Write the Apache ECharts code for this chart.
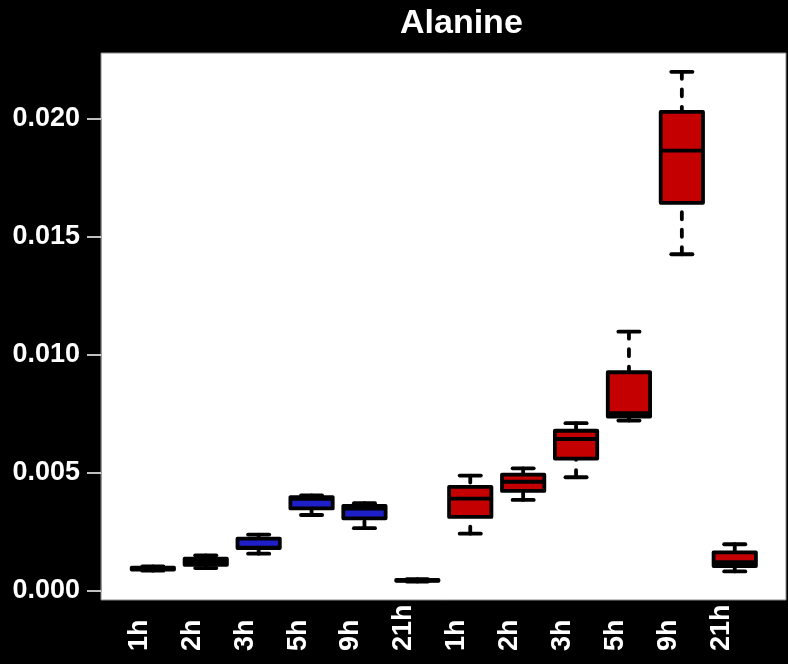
<!DOCTYPE html>
<html>
<head>
<meta charset="utf-8">
<script src="https://cdn.jsdelivr.net/npm/echarts@6/dist/echarts.min.js"></script>
<style>
html,body{margin:0;padding:0;background:#000;}
#c{width:788px;height:664px;}
</style>
</head>
<body>
<div id="c"></div>
<script>
// ---- data ----
const categories = ['1h','2h','3h','5h','9h','21h','1h','2h','3h','5h','9h','21h'];
const groupOf    = [0,0,0,0,0,0,1,1,1,1,1,1];
const whiskerLow  = [0.00086,0.00097,0.00158,0.00322,0.00266,0.00040, 0.00243,0.00386,0.00482,0.00722,0.01427,0.00083];
const quartile1   = [0.00091,0.00111,0.00182,0.00350,0.00308,0.00043, 0.00314,0.00424,0.00561,0.00739,0.01645,0.00106];
const median      = [0.00095,0.00124,0.00184,0.00390,0.00349,0.00045, 0.00391,0.00463,0.00644,0.00754,0.01866,0.00122];
const quartile3   = [0.00099,0.00137,0.00222,0.00398,0.00361,0.00047, 0.00441,0.00493,0.00679,0.00927,0.02030,0.00164];
const whiskerHigh = [0.00104,0.00151,0.00239,0.00405,0.00372,0.00050, 0.00489,0.00520,0.00711,0.01099,0.02200,0.00198];
const yMin = 0, yMax = 0.020, yStep = 0.005;
const titleText = 'Alanine';

// ---- styles ----
const groupColors = ['#1f1fc9', '#c40000'];
const FONT = '"Liberation Sans", Arial, sans-serif';

const seriesData = categories.map((c, i) => [i, whiskerLow[i], quartile1[i], median[i], quartile3[i], whiskerHigh[i], groupOf[i]]);

function renderItem(params, api) {
  const i = api.value(0);
  const bw = api.size([1, 0])[0];
  const half = bw * 0.4;
  const capHalf = bw * 0.2;
  const pMin = api.coord([i, api.value(1)]);
  const pQ1 = api.coord([i, api.value(2)]);
  const pMed = api.coord([i, api.value(3)]);
  const pQ3 = api.coord([i, api.value(4)]);
  const pMax = api.coord([i, api.value(5)]);
  const x = pMed[0];
  const lw = 3.8;
  const fill = groupColors[api.value(6)];
  const dashStyle = {stroke: '#000', lineWidth: lw, lineDash: [7, 10.5], lineCap: 'round'};
  const solid = {stroke: '#000', lineWidth: lw, lineCap: 'round'};
  return {
    type: 'group',
    children: [
      {type: 'line', shape: {x1: x, y1: pMax[1], x2: x, y2: pQ3[1]}, style: dashStyle},
      {type: 'line', shape: {x1: x, y1: pMin[1], x2: x, y2: pQ1[1]}, style: dashStyle},
      {type: 'line', shape: {x1: x - capHalf, y1: pMax[1], x2: x + capHalf, y2: pMax[1]}, style: solid},
      {type: 'line', shape: {x1: x - capHalf, y1: pMin[1], x2: x + capHalf, y2: pMin[1]}, style: solid},
      {type: 'rect', shape: {x: x - half, y: pQ3[1], width: 2 * half, height: pQ1[1] - pQ3[1]},
        style: {fill: fill, stroke: '#000', lineWidth: lw, lineJoin: 'round'}},
      {type: 'line', shape: {x1: x - half, y1: pMed[1], x2: x + half, y2: pMed[1]}, style: {stroke: '#000', lineWidth: lw, lineCap: 'butt'}}
    ]
  };
}

const chart = echarts.init(document.getElementById('c'), null, {renderer: 'canvas'});
chart.setOption({
  backgroundColor: '#000',
  animation: false,
  title: {
    text: titleText, left: 400, top: 7, padding: 0,
    textStyle: {color: '#fff', fontSize: 34, fontWeight: 'bold', fontFamily: FONT}
  },
  grid: [
    {left: 126.4, right: 26.8, top: 119, bottom: 73, show: false},
    {left: 101, right: 2, top: 53, bottom: 64, show: true, backgroundColor: '#fff', borderColor: '#8a8a8a', borderWidth: 1, z: -1}
  ],
  xAxis: [
    {
      type: 'category', gridIndex: 0, data: categories, boundaryGap: true,
      axisLine: {show: false}, axisTick: {show: false},
      axisLabel: {
        interval: 0, rotate: 90, align: 'left', verticalAlign: 'bottom', margin: 60,
        color: '#fff', fontSize: 27, fontWeight: 'bold', fontFamily: FONT
      }
    },
    {type: 'value', gridIndex: 1, show: false, min: 0, max: 1}
  ],
  yAxis: [
    {
      type: 'value', gridIndex: 0, min: yMin, max: yMax, interval: yStep, offset: 25.4,
      axisLine: {show: true, lineStyle: {color: '#9a9a9a', width: 1}},
      axisTick: {show: true, length: 14, lineStyle: {color: '#fff', width: 1.5}},
      splitLine: {show: false},
      axisLabel: {
        margin: 21, color: '#fff', fontSize: 27, fontWeight: 'bold', fontFamily: FONT,
        formatter: v => v.toFixed(3)
      }
    },
    {type: 'value', gridIndex: 1, show: false, min: 0, max: 1}
  ],
  series: [{
    type: 'custom',
    xAxisIndex: 0, yAxisIndex: 0,
    clip: false,
    renderItem: renderItem,
    encode: {x: 0, y: [1, 2, 3, 4, 5]},
    data: seriesData,
    z: 5
  }]
});
</script>
</body>
</html>
